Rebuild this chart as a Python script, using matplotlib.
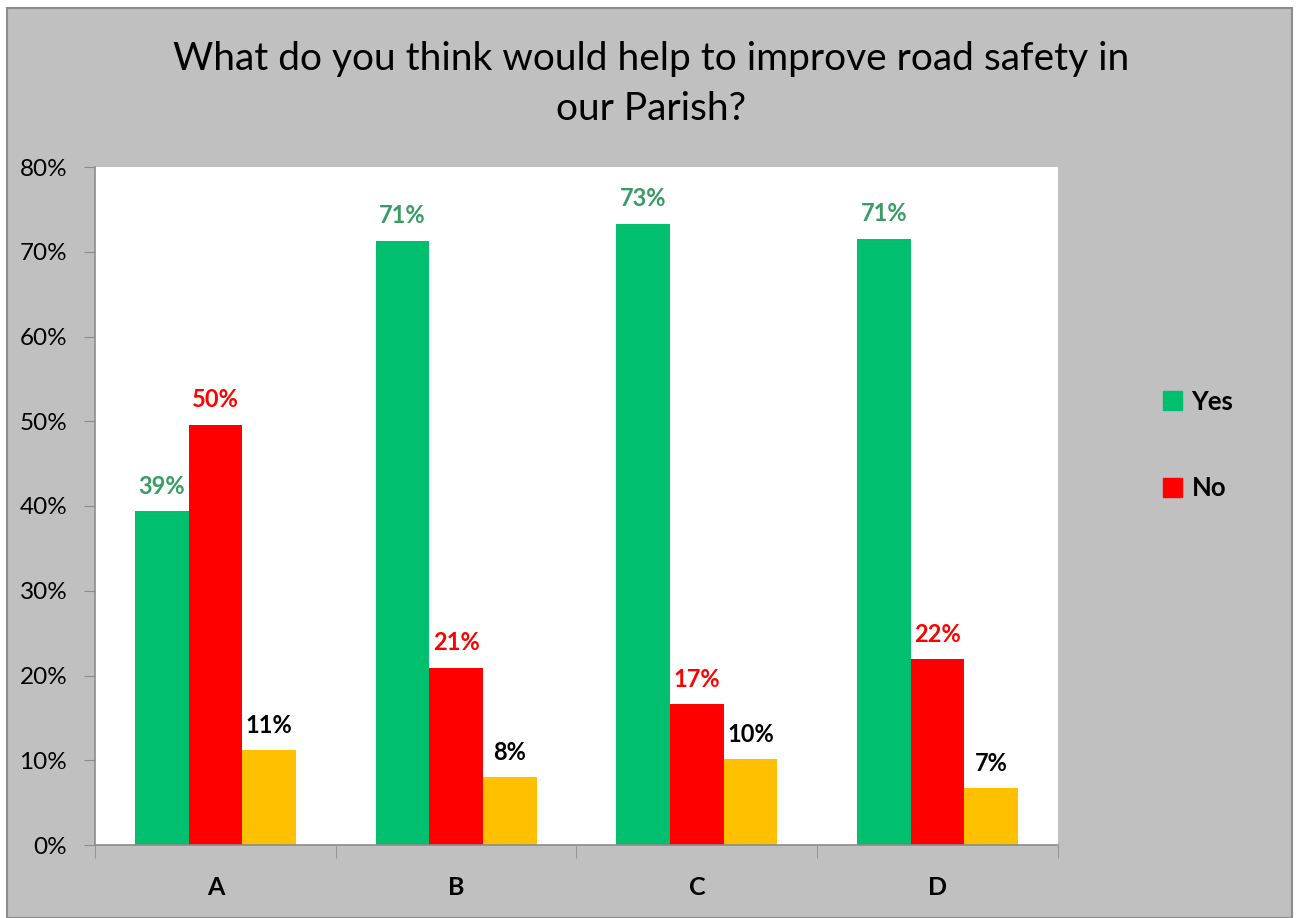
import matplotlib.pyplot as plt
import matplotlib.patches as mpatches
import numpy as np

# data (percent)
categories = ['A', 'B', 'C', 'D']
yes_vals = [39.4, 71.3, 73.3, 71.5]
no_vals = [49.6, 20.9, 16.6, 21.9]
other_vals = [11.2, 8.0, 10.1, 6.7]

yes_labels = ['39%', '71%', '73%', '71%']
no_labels = ['50%', '21%', '17%', '22%']
other_labels = ['11%', '8%', '10%', '7%']

plt.rcParams['font.family'] = ['Lato', 'DejaVu Sans']

green = '#00C070'
red = '#FF0000'
gold = '#FFC000'
gray_bg = '#C0C0C0'

fig = plt.figure(figsize=(13.01, 9.18), dpi=100)
fig.patch.set_facecolor('white')
# chart area with border
fig.patches.append(mpatches.Rectangle((7 / 1301, 0), 1285 / 1301, 910 / 918,
                                      transform=fig.transFigure, facecolor=gray_bg,
                                      edgecolor='#8C8C8C', linewidth=1.5, zorder=-10))

ax = fig.add_axes([95 / 1301, (918 - 845) / 918, 963 / 1301, 678 / 918])
ax.set_facecolor('white')

x = np.arange(len(categories))
w = 0.223
ax.bar(x - w, yes_vals, w, color=green, label='Yes')
ax.bar(x, no_vals, w, color=red, label='No')
ax.bar(x + w, other_vals, w, color=gold)

for i in range(len(categories)):
    ax.text(x[i] - w, yes_vals[i] + 1.6, yes_labels[i], ha='center', va='bottom',
            color='#3A9C64', fontsize=17, fontweight='bold')
    ax.text(x[i], no_vals[i] + 1.6, no_labels[i], ha='center', va='bottom',
            color=red, fontsize=17, fontweight='bold')
    ax.text(x[i] + w, other_vals[i] + 1.6, other_labels[i], ha='center', va='bottom',
            color='black', fontsize=17, fontweight='bold')

ax.set_xlim(-0.5, 3.5)
ax.set_ylim(0, 80)
ax.set_yticks(np.arange(0, 81, 10))
ax.set_yticklabels([f'{v}%' for v in range(0, 81, 10)], fontsize=17.5)
ax.set_xticks(x)
ax.set_xticklabels(categories, fontsize=18, fontweight='bold')
ax.tick_params(axis='x', length=0, pad=22)
ax.set_xticks(np.arange(-0.5, 4, 1), minor=True)
ax.tick_params(axis='x', which='minor', length=9, color='#8C8C8C', direction='out')
ax.tick_params(axis='y', length=8, color='#8C8C8C', pad=12)
for s in ['top', 'right']:
    ax.spines[s].set_visible(False)
for s in ['left', 'bottom']:
    ax.spines[s].set_color('#8C8C8C')
    ax.spines[s].set_linewidth(1.2)

fig.text(651 / 1301, 1 - 84 / 918,
         'What do you think would help to improve road safety in\nour Parish?',
         ha='center', va='center', fontsize=28, linespacing=1.45)

handles = [mpatches.Patch(color=green, label='Yes'), mpatches.Patch(color=red, label='No')]
leg = fig.legend(handles=handles, loc='center left', bbox_to_anchor=(1140 / 1301, 1 - 445 / 918),
                 frameon=False, prop={'size': 18.5, 'weight': 'bold'}, labelspacing=2.45,
                 handlelength=0.75, handleheight=0.75, handletextpad=0.35)

fig.savefig('out.png', dpi=100)
